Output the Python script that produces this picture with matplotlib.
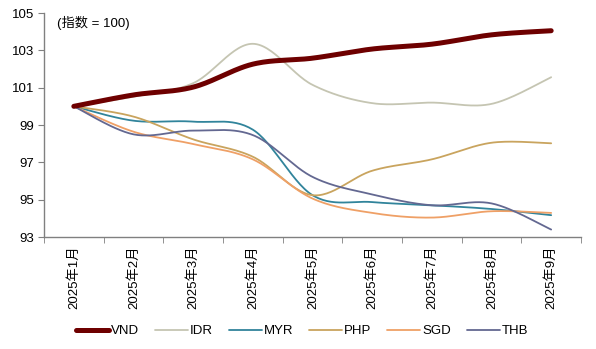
import numpy as np
import matplotlib
matplotlib.use("Agg")
import matplotlib.pyplot as plt
from matplotlib.ticker import FixedLocator

plt.rcParams['font.family'] = ['Liberation Sans', 'Noto Sans CJK SC', 'DejaVu Sans']

months = ["2025年1月", "2025年2月", "2025年3月", "2025年4月", "2025年5月",
          "2025年6月", "2025年7月", "2025年8月", "2025年9月"]
VND = [100.0, 100.61, 101.03, 102.26, 102.58, 103.07, 103.33, 103.83, 104.05]
IDR = [100.0, 100.52, 101.24, 103.35, 101.15, 100.17, 100.20, 100.13, 101.56]
MYR = [100.0, 99.23, 99.18, 98.75, 95.24, 94.87, 94.70, 94.50, 94.17]
PHP = [100.0, 99.45, 98.23, 97.30, 95.24, 96.55, 97.16, 98.05, 98.02]
SGD = [100.0, 98.64, 97.98, 97.16, 95.06, 94.29, 94.04, 94.38, 94.29]
THB = [100.0, 98.50, 98.70, 98.46, 96.22, 95.28, 94.70, 94.80, 93.40]
series_names = ["VND", "IDR", "MYR", "PHP", "SGD", "THB"]
series_vals = [VND, IDR, MYR, PHP, SGD, THB]
colors = ["#6E0000", "#C5C5B2", "#31849B", "#C9A45E", "#EFA066", "#636891"]
widths = [3.6, 1.3, 1.3, 1.3, 1.3, 1.3]


def smooth(x, y, n=30):
    x = np.asarray(x, float)
    y = np.asarray(y, float)
    P = np.column_stack([x, y])
    Pe = np.vstack([P[0], P, P[-1]])
    out = []
    t = np.linspace(0, 1, n)[:, None]
    for i in range(len(P) - 1):
        p0, p1, p2, p3 = Pe[i], Pe[i + 1], Pe[i + 2], Pe[i + 3]
        c1 = p1 + (p2 - p0) / 6
        c2 = p2 - (p3 - p1) / 6
        seg = ((1 - t) ** 3) * p1 + 3 * ((1 - t) ** 2) * t * c1 + 3 * (1 - t) * t ** 2 * c2 + t ** 3 * p2
        out.append(seg if i == 0 else seg[1:])
    out = np.vstack(out)
    return out[:, 0], out[:, 1]


fig = plt.figure(figsize=(5.96, 3.49), dpi=100)
ax = fig.add_axes([44 / 596, 1 - 237 / 349, (581 - 44) / 596, (237 - 13) / 349])

x = np.arange(len(months))
for name, vals, c, w in zip(series_names, series_vals, colors, widths):
    sx, sy = smooth(x, vals)
    ax.plot(sx, sy, color=c, lw=w, label=name, solid_capstyle='round',
            zorder=5 if name == "VND" else 3)

ax.set_xlim(-0.5, len(months) - 0.5)
ax.set_ylim(93, 105)
ax.set_yticks(np.arange(93, 106, 2))
ax.set_xticks(x)
ax.set_xticklabels(months, rotation=90, fontsize=9.5)
ax.xaxis.set_minor_locator(FixedLocator(np.arange(-0.5, len(months), 1)))
ax.tick_params(axis='x', which='major', length=0, pad=6)
ax.tick_params(axis='x', which='minor', length=4, direction='out', color='#808080')
ax.tick_params(axis='y', length=4, direction='out', color='#808080', labelsize=9.5, pad=3)
for s in ['top', 'right']:
    ax.spines[s].set_visible(False)
for s in ['left', 'bottom']:
    ax.spines[s].set_color('#808080')
    ax.spines[s].set_linewidth(1.0)

ax.text(0.025, 0.985, "(指数 = 100)", transform=ax.transAxes, fontsize=9.5,
        va='top', ha='left')

leg = fig.legend(loc='center', bbox_to_anchor=(302 / 596, 1 - 331 / 349), ncol=6,
                 frameon=False, fontsize=9.5, handlelength=2.5, handletextpad=0.15,
                 columnspacing=1.2, borderpad=0, borderaxespad=0)

fig.savefig("out.png", dpi=100)
